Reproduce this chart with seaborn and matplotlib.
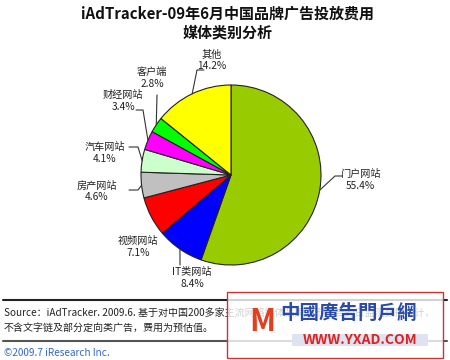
import matplotlib
matplotlib.use("Agg")
import matplotlib.pyplot as plt
import seaborn as sns
import numpy as np
from matplotlib.patches import Rectangle

categories = ["门户网站", "IT类网站", "视频网站", "房产网站", "汽车网站", "财经网站", "客户端", "其他"]
shares = [55.4, 8.4, 7.1, 4.6, 4.1, 3.4, 2.8, 14.2]
colors = ["#99cc00", "#0000ff", "#ff0000", "#c0c0c0", "#ccffcc", "#ff00ff", "#00ff00", "#ffff00"]

title_lines = ["iAdTracker-09年6月中国品牌广告投放费用", "媒体类别分析"]
source_lines = ["Source：iAdTracker. 2009.6. 基于对中国200多家主流网络媒体品牌图形广告的日监测数据统计，",
                "不含文字链及部分定向类广告，费用为预估值。"]
copyright_text = "©2009.7 iResearch Inc."

sns.set_theme(style="white")
plt.rcParams['font.family'] = ['Noto Sans CJK SC', 'DejaVu Sans']

W, H = 450, 360
fig = plt.figure(figsize=(4.5, 3.6), dpi=100)
ax = fig.add_axes([0, 0, 1, 1])

def py(y):
    return H - y

cx, cy, r = 231, py(175), 90
wedges, _ = ax.pie(shares, colors=colors, startangle=90, counterclock=False,
                   center=(cx, cy), radius=r, frame=True,
                   wedgeprops=dict(edgecolor="#222222", linewidth=0.8))
ax.set_xlim(0, W)
ax.set_ylim(0, H)
ax.set_aspect('equal')
ax.axis('off')

# layout: text center (pixel), leader path points after the edge point (pixel)
layout = {
    "门户网站": ((360, 180), [(335, 176), (342, 176)]),
    "IT类网站": ((192, 278), [(180, 265)]),
    "视频网站": ((138, 247), None),
    "房产网站": ((97, 191), [(138, 190), (129, 190)]),
    "汽车网站": ((105, 153), [(138, 147), (129, 147)]),
    "财经网站": ((123, 101), [(143, 110), (136, 110)]),
    "客户端": ((152, 78), [(157, 95)]),
    "其他": ((212, 60), [(197, 70), (204, 70)]),
}

for w, cat, val in zip(wedges, categories, shares):
    ang = np.deg2rad((w.theta1 + w.theta2) / 2)
    ex, ey = cx + r * np.cos(ang), cy + r * np.sin(ang)
    (tx, ty), path = layout[cat]
    ax.text(tx, py(ty), f"{cat}\n{val:.1f}%", ha="center", va="center",
            fontsize=7.3, color="#222222", linespacing=1.15)
    if path:
        xs = [ex] + [p[0] for p in path]
        ys = [ey] + [py(p[1]) for p in path]
        ax.plot(xs, ys, color="#333333", lw=0.8)

ax.text(228, py(14), title_lines[0], ha="center", va="center", fontsize=10.8,
        fontweight="bold", color="#111111")
ax.text(228, py(32), title_lines[1], ha="center", va="center", fontsize=10.8,
        fontweight="bold", color="#111111")

# footer
ax.plot([3, 447], [py(300), py(300)], color="#222222", lw=1.5)
ax.plot([3, 447], [py(341), py(341)], color="#555555", lw=1.5)
ax.text(4, py(314), source_lines[0], ha="left", va="center", fontsize=7.2, color="#222222")
ax.text(4, py(328), source_lines[1], ha="left", va="center", fontsize=7.2, color="#222222")
ax.text(4, py(353), copyright_text, ha="left", va="center", fontsize=7.2, color="#3366cc")

# watermark overlay
ax.add_patch(Rectangle((227, py(358)), 216, 66, facecolor="white", alpha=0.8,
                       edgecolor="none", zorder=5))
ax.add_patch(Rectangle((227, py(358)), 216, 66, facecolor="none",
                       edgecolor="#cc3333", lw=1.0, zorder=6))
ax.text(348, py(313), "中國廣告門戶網", ha="center", va="center", fontsize=14,
        fontweight="bold", color="#2a4aa8", zorder=7)
ax.add_patch(Rectangle((292, py(346)), 136, 12, facecolor="#dde3f0", edgecolor="none", zorder=6))
ax.text(360, py(340), "WWW.YXAD.COM", ha="center", va="center", fontsize=10,
        fontweight="bold", color="#dd2222", zorder=7)
ax.text(262, py(322), "M", ha="center", va="center", fontsize=22, fontweight="bold",
        fontstyle="italic", color="#e04020", zorder=7)

fig.savefig("out.png", dpi=100)
